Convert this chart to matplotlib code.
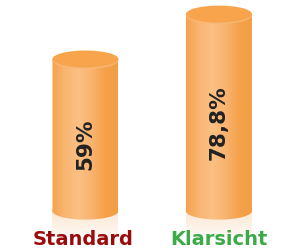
import numpy as np
import matplotlib
matplotlib.use("Agg")
import matplotlib.pyplot as plt
from matplotlib.patches import Ellipse, Rectangle, PathPatch
from matplotlib.path import Path
from matplotlib.colors import LinearSegmentedColormap

categories = ["Standard", "Klarsicht"]
values = [59.0, 78.8]
value_labels = ["59%", "78,8%"]
label_colors = ["#9B0B0B", "#3DAA48"]

fig = plt.figure(figsize=(2.92, 2.49), dpi=100)
ax = fig.add_axes([0, 0, 1, 1])
ax.set_xlim(-0.640, 1.547)
ax.set_ylim(-24.7, 85.0)
ax.axis("off")

base = -8.0
width = 0.494
cap_h = 7.5  # full ellipse height in data units

body_cmap = LinearSegmentedColormap.from_list(
    "body", ["#F5A24C", "#F9B673", "#FBC083", "#F9B470", "#F5A24A", "#F39D45"])
refl_cmap = LinearSegmentedColormap.from_list(
    "refl", ["#FCE8D2", "#FDF0E3", "#FEF8F2"])

grad = np.linspace(0, 1, 256).reshape(1, -1)

for i, (v, lab, col, vl) in enumerate(zip(values, categories, label_colors, value_labels)):
    x0 = i - width / 2
    # reflection
    rimg = np.linspace(0, 1, 64).reshape(-1, 1)
    ax.imshow(rimg, extent=(x0, x0 + width, base - 10.5, base), cmap=refl_cmap,
              aspect="auto", origin="upper", zorder=1, interpolation="bilinear")
    # body gradient clipped to rectangle + bottom ellipse
    im = ax.imshow(grad, extent=(x0, x0 + width, base - cap_h / 2, v), cmap=body_cmap,
                   aspect="auto", zorder=2, interpolation="bilinear")
    rect = Rectangle((x0, base), width, v - base)
    bot = Ellipse((i, base), width, cap_h)
    clip_path = Path.make_compound_path(
        ax.transData.transform_path(rect.get_patch_transform().transform_path(rect.get_path())),
        ax.transData.transform_path(bot.get_patch_transform().transform_path(bot.get_path())))
    cp = PathPatch(clip_path, transform=None, facecolor="none", edgecolor="none")
    ax.add_patch(cp)
    im.set_clip_path(cp)
    # front rim light line under cap
    ax.add_patch(Ellipse((i, v - 0.6), width, cap_h, facecolor="#F9B877", edgecolor="none", zorder=3))
    # top cap
    ax.add_patch(Ellipse((i, v), width, cap_h, facecolor="#F7A44D", edgecolor="none", zorder=4))
    # value label
    ax.annotate(vl, xy=(i, (v + base) / 2), xytext=(0, -7), textcoords="offset points",
                rotation=90, ha="center", va="center", fontsize=15.5, fontweight="bold",
                color="#222222", zorder=5)
    # category label
    ax.text(i - 0.02 if i == 0 else i, -24.6, lab, ha="center", va="bottom", fontsize=14,
            fontweight="bold", color=col, zorder=6)

fig.savefig("out.png", dpi=100)
